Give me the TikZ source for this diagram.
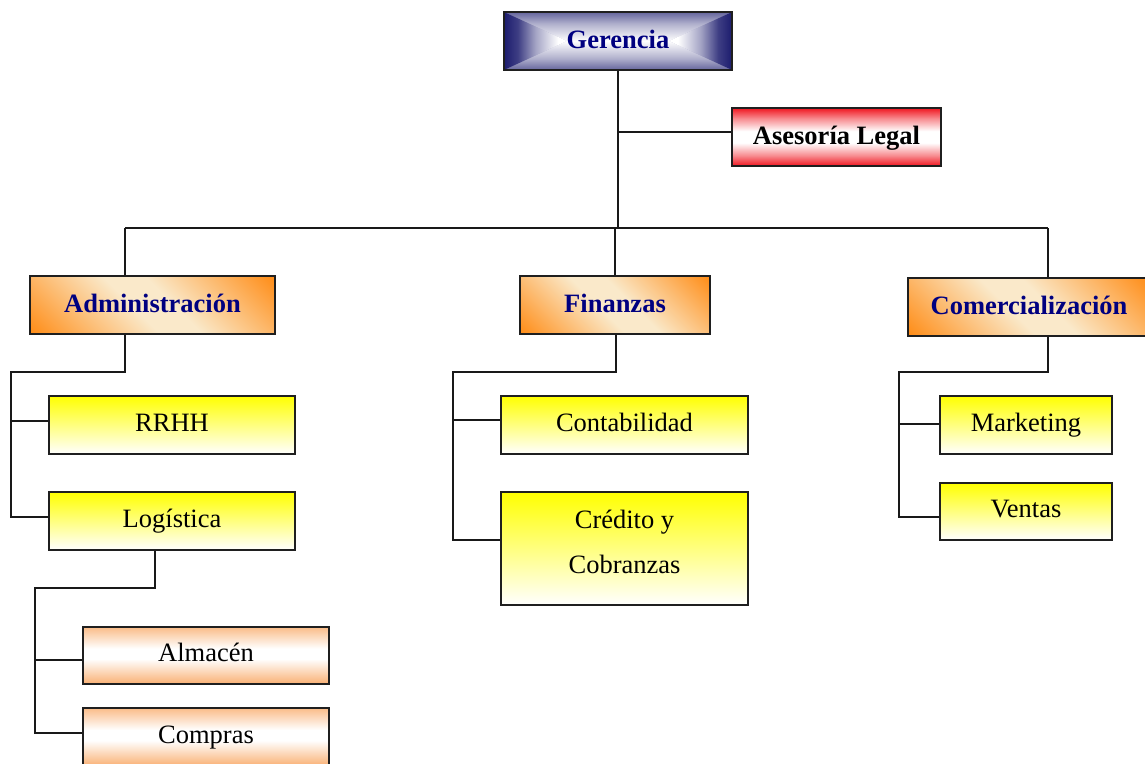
\documentclass[tikz,border=0pt]{standalone}
\usepackage{fontspec}
\setmainfont{Liberation Serif}
\usetikzlibrary{calc}

% palette
\definecolor{gnavy}{RGB}{28,28,110}
\definecolor{tnavy}{RGB}{0,0,128}
\definecolor{horange}{RGB}{255,138,18}
\definecolor{hcream}{RGB}{250,233,202}
\definecolor{ared}{RGB}{240,22,32}
\definecolor{apeach}{RGB}{249,176,115}
\definecolor{uyellow}{RGB}{255,255,0}

% gradient fills
\pgfdeclareverticalshading{gerV}{100bp}{color(0bp)=(white); color(25bp)=(white); color(55bp)=(gnavy!35!white); color(75bp)=(gnavy!68!white); color(100bp)=(gnavy!68!white)}
\pgfdeclareverticalshading{gerH}{100bp}{color(0bp)=(white); color(32bp)=(white); color(50bp)=(gnavy!40!white); color(64bp)=(gnavy!85!white); color(75bp)=(gnavy); color(100bp)=(gnavy)}
\pgfdeclareverticalshading{redband}{100bp}{color(0bp)=(ared); color(25bp)=(ared); color(34bp)=(ared!50!white); color(45bp)=(white); color(55bp)=(white); color(66bp)=(ared!50!white); color(75bp)=(ared); color(100bp)=(ared)}
\pgfdeclareverticalshading{peachband}{100bp}{color(0bp)=(apeach); color(25bp)=(apeach); color(47bp)=(white); color(56bp)=(white); color(75bp)=(apeach!85!white); color(100bp)=(apeach!85!white)}
\pgfdeclareverticalshading{yellowfade}{100bp}{color(0bp)=(white); color(25bp)=(white); color(75bp)=(uyellow); color(100bp)=(uyellow)}
\pgfdeclareverticalshading{orangediag}{100bp}{color(0bp)=(horange); color(14bp)=(horange); color(31bp)=(horange!45!hcream); color(45bp)=(hcream); color(55bp)=(hcream); color(69bp)=(horange!45!hcream); color(86bp)=(horange); color(100bp)=(horange)}

\tikzset{
  txt/.style={font=\fontsize{26.5}{45}\selectfont},
  orgbox/.style={txt, draw=black!88, line width=1.4pt, inner sep=0pt,
    minimum height=58pt, align=center},
  oneline/.style={text height=18pt, text depth=6pt},
  headline/.style={text height=18pt, text depth=2.5pt},
  gerbox/.style={orgbox, headline, text=tnavy, fill=gnavy!40!white,
    path picture={
      \coordinate (q1) at (path picture bounding box.north west);
      \coordinate (q2) at (path picture bounding box.north east);
      \coordinate (q3) at (path picture bounding box.south east);
      \coordinate (q4) at (path picture bounding box.south west);
      \coordinate (qa) at ($(path picture bounding box.west)+(63,0)$);
      \coordinate (qb) at ($(path picture bounding box.east)+(-63,0)$);
      \shade[shading=gerV] (q1) -- (q2) -- (qb) -- (qa) -- cycle;
      \shade[shading=gerV, shading angle=180] (q4) -- (q3) -- (qb) -- (qa) -- cycle;
      \shade[shading=gerH, shading angle=90] (q1) -- (qa) -- (q4) -- cycle;
      \shade[shading=gerH, shading angle=-90] (q2) -- (qb) -- (q3) -- cycle;
    }},
  legalbox/.style={orgbox, headline, shade, shading=redband},
  areabox/.style={orgbox, headline, text=tnavy, shade, shading=orangediag, shading angle=-45},
  unitbox/.style={orgbox, shade, shading=yellowfade},
  subbox/.style={orgbox, oneline, shade, shading=peachband},
  link/.style={draw=black!90, line width=1.4pt},
}

\begin{document}
\begin{tikzpicture}[x=1pt, y=-1pt]
\useasboundingbox (0,0) rectangle (1145,763);
\begin{scope}
\clip (0,0) rectangle (1145,763);

% top level
\node[gerbox, minimum width=228pt] (ger) at (618,41) {\bfseries Gerencia};
\node[legalbox, minimum width=209pt] (ase) at (836.5,137) {\bfseries Asesoría Legal};

% areas
\node[areabox, minimum width=245pt] (adm) at (152.5,305) {\bfseries Administración};
\node[areabox, minimum width=190pt] (fin) at (615,305) {\bfseries Finanzas};
\node[areabox, minimum width=242pt] (com) at (1029,307) {\bfseries Comercialización};

% units
\node[unitbox, oneline, minimum width=246pt] (rrhh) at (172,425) {RRHH};
\node[unitbox, oneline, minimum width=246pt] (log) at (172,521) {Logística};
\node[unitbox, oneline, minimum width=247pt] (cont) at (624.5,425) {Contabilidad};
\node[unitbox, minimum width=247pt, minimum height=113pt] (cred) at (624.5,548.5)
  {Crédito y\\Cobranzas\rule[-14pt]{0pt}{0pt}};
\node[unitbox, oneline, minimum width=172pt] (mkt) at (1026,425) {Marketing};
\node[unitbox, oneline, minimum width=172pt, minimum height=57pt] (ven) at (1026,511.5) {Ventas};

% logistics sub-units
\node[subbox, minimum width=246pt, minimum height=57pt] (alm) at (206,655.5) {Almacén};
\node[subbox, minimum width=246pt] (comp) at (206,737) {Compras};

% junction points
\coordinate (jase) at (618,132);
\coordinate (bL) at (125,228);
\coordinate (bM) at (615,228);
\coordinate (bR) at (1048,228);
\coordinate (ad0) at (125,372);
\coordinate (ad1) at (11,372);
\coordinate (ad2) at (11,421);
\coordinate (ad3) at (11,517);
\coordinate (lg0) at (155,588);
\coordinate (lg1) at (35,588);
\coordinate (lg2) at (35,660);
\coordinate (lg3) at (35,733);
\coordinate (fi0) at (616,372);
\coordinate (fi1) at (453,372);
\coordinate (fi2) at (453,420);
\coordinate (fi3) at (453,540);
\coordinate (co0) at (1048,372);
\coordinate (co1) at (899,372);
\coordinate (co2) at (899,424);
\coordinate (co3) at (899,517);

% connectors
\draw[link] (ger.south) -- (ger.south |- bL);
\draw[link] (jase) -- (jase -| ase.west);
\draw[link] (bL) -- (bR);
\draw[link] (bL) -- (bL |- adm.north);
\draw[link] (bM) -- (bM |- fin.north);
\draw[link] (bR) -- (bR |- com.north);

\draw[link] (ad0 |- adm.south) -- (ad0) -- (ad1) -- (ad3) -- (ad3 -| log.west);
\draw[link] (ad2) -- (ad2 -| rrhh.west);

\draw[link] (lg0 |- log.south) -- (lg0) -- (lg1) -- (lg3) -- (lg3 -| comp.west);
\draw[link] (lg2) -- (lg2 -| alm.west);

\draw[link] (fi0 |- fin.south) -- (fi0) -- (fi1) -- (fi3) -- (fi3 -| cred.west);
\draw[link] (fi2) -- (fi2 -| cont.west);

\draw[link] (co0 |- com.south) -- (co0) -- (co1) -- (co3) -- (co3 -| ven.west);
\draw[link] (co2) -- (co2 -| mkt.west);
\end{scope}
\end{tikzpicture}
\end{document}
